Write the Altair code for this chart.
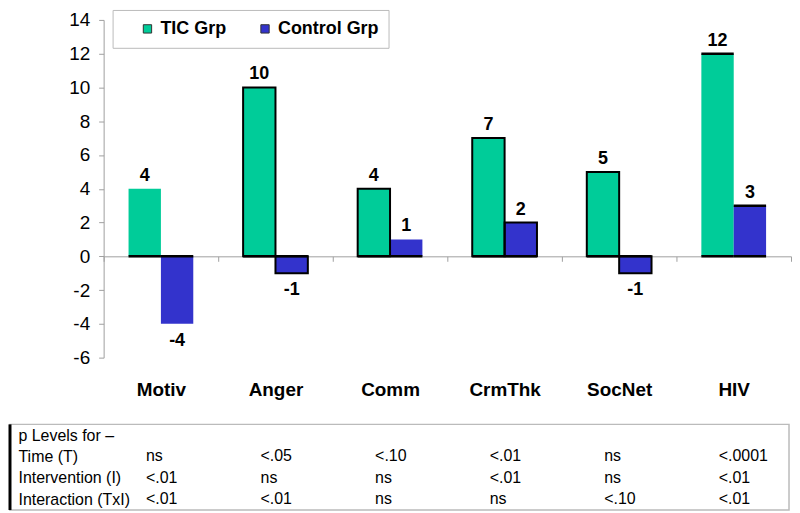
import altair as alt
import pandas as pd

categories = ["Motiv", "Anger", "Comm", "CrmThk", "SocNet", "HIV"]
groups = ["TIC Grp", "Control Grp"]
tic_values = [4, 10, 4, 7, 5, 12]
control_values = [-4, -1, 1, 2, -1, 3]

row_labels = ["p Levels for \u2013", "Time (T)", "Intervention (I)", "Interaction (TxI)"]
p_time = ["ns", "<.05", "<.10", "<.01", "ns", "<.0001"]
p_intervention = ["<.01", "ns", "ns", "<.01", "ns", "<.01"]
p_interaction = ["<.01", "<.01", "ns", "ns", "<.10", "<.01"]

FONT = "Liberation Sans"
GREEN = "#00CC99"
BLUE = "#3333CC"

rows = []
for c, t, k in zip(categories, tic_values, control_values):
    rows.append({"category": c, "group": groups[0], "value": t})
    rows.append({"category": c, "group": groups[1], "value": k})
bars_df = pd.DataFrame(rows)

W, H = 690, 339
zero_px = H * 14 / 20

x_enc = alt.X(
    "category:N",
    sort=categories,
    scale=alt.Scale(domain=categories, paddingInner=0, paddingOuter=0),
    axis=alt.Axis(
        title=None, orient="bottom", offset=-(H - zero_px), labelPadding=120,
        labelAngle=0, labelFont=FONT, labelFontSize=19, labelFontWeight="bold",
        labelColor="black", domainColor="#A0A0A0", tickColor="#A0A0A0",
        tickSize=5, tickBand="extent",
    ),
)
xoff_enc = alt.XOffset(
    "group:N", sort=groups,
    scale=alt.Scale(domain=groups, paddingInner=0, paddingOuter=0.77),
)


def y_enc(field="value"):
    return alt.Y(
        f"{field}:Q",
        scale=alt.Scale(domain=[-6, 14], nice=False, zero=False),
        axis=alt.Axis(
            title=None, values=list(range(-6, 15, 2)), tickCount=11, grid=False,
            labelOverlap=False, labelExpr="'' + datum.value",
            labelFont=FONT, labelFontSize=19, labelColor="black", labelPadding=9,
            domainColor="#A0A0A0", tickColor="#A0A0A0", tickSize=5,
        ),
    )


base = alt.Chart(bars_df).transform_calculate(
    label="'' + datum.value", zero="0"
)

bars = base.mark_bar().encode(
    x=x_enc, xOffset=xoff_enc, y=y_enc(),
    color=alt.Color(
        "group:N",
        scale=alt.Scale(domain=groups, range=[GREEN, BLUE]),
        legend=alt.Legend(
            title=None, orient="none", legendX=9, legendY=-10,
            direction="horizontal", symbolType="square", symbolSize=70,
            symbolStrokeColor="#333333", symbolStrokeWidth=1,
            labelFont=FONT, labelFontSize=18, labelFontWeight="bold",
            labelColor="black", fillColor="white", strokeColor="#BBBBBB",
            padding=10, columnPadding=14, symbolOffset=16,
        ),
    ),
)

outlined = (
    "datum.category == 'Anger' || datum.category == 'CrmThk' || "
    "datum.category == 'SocNet' || "
    "(datum.category == 'Comm' && datum.group == 'TIC Grp')"
)
outline = base.transform_filter(outlined).mark_bar(
    filled=False, stroke="black", strokeWidth=2
).encode(x=x_enc, xOffset=xoff_enc, y=y_enc())

caps = base.transform_filter("datum.category == 'HIV'").mark_bar(
    filled=False, stroke="black", strokeWidth=2.5
).encode(x=x_enc, xOffset=xoff_enc, y=y_enc(), y2="value:Q")

zero_line = base.mark_bar(filled=False, stroke="black", strokeWidth=2.5).encode(
    x=x_enc, xOffset=xoff_enc, y=y_enc("zero"), y2="zero:Q"
)

pos_labels = base.transform_filter("datum.value >= 0").mark_text(
    baseline="alphabetic", dy=-8, font=FONT, fontSize=18, fontWeight="bold", color="black"
).encode(x=x_enc, xOffset=xoff_enc, y=y_enc(), text="label:N")

neg_labels = base.transform_filter("datum.value < 0").mark_text(
    baseline="top", dy=8, font=FONT, fontSize=18, fontWeight="bold", color="black"
).encode(x=x_enc, xOffset=xoff_enc, y=y_enc(), text="label:N")

main = alt.layer(bars, outline, caps, zero_line, pos_labels, neg_labels).properties(
    width=W, height=H
)

# p-level table
trows = []
for lbl, vals in zip(row_labels[1:], [p_time, p_intervention, p_interaction]):
    for c, v in zip(categories, vals):
        trows.append({"row": lbl, "category": c, "p": v})
table_df = pd.DataFrame(trows)
TH = 86

t_text = alt.Chart(table_df).mark_text(
    align="left", dx=-15, font=FONT, fontSize=16, color="black"
).encode(
    x=alt.X("category:N", sort=categories,
            scale=alt.Scale(domain=categories, paddingInner=0, paddingOuter=0),
            axis=None),
    y=alt.Y("row:N", sort=row_labels,
            scale=alt.Scale(domain=row_labels, paddingInner=0, paddingOuter=0.23),
            axis=alt.Axis(title=None, domain=False, ticks=False, labelAlign="left",
                          labelPadding=86, labelFont=FONT, labelFontSize=16,
                          labelColor="black", labelBaseline="middle")),
    text="p:N",
)

frame_df = pd.DataFrame({"k": [0]})
frame = alt.Chart(frame_df).mark_rect(
    filled=False, stroke="#BBBBBB", strokeWidth=1.5
).encode(x=alt.value(-94), x2=alt.value(688), y=alt.value(0), y2=alt.value(TH))
left_border = alt.Chart(frame_df).mark_rule(color="black", strokeWidth=3).encode(
    x=alt.value(-94), y=alt.value(0), y2=alt.value(TH)
)

table = alt.layer(frame, left_border, t_text).properties(width=W, height=TH)

chart = (
    alt.vconcat(main, table, spacing=22)
    .resolve_legend(color="independent")
    .properties(padding=0)
    .configure_view(stroke=None)
)

chart.save("out.html", embed_options={"renderer": "svg", "actions": False})
